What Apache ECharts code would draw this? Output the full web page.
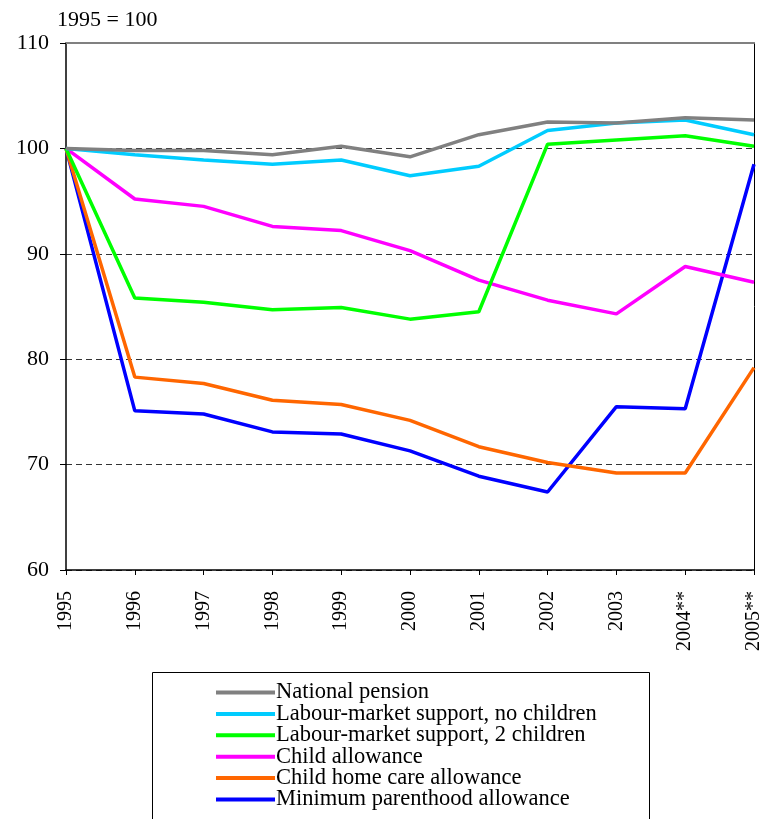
<!DOCTYPE html>
<html>
<head>
<meta charset="utf-8">
<script src="https://cdn.jsdelivr.net/npm/echarts@6/dist/echarts.min.js"></script>
<style>
  html, body { margin: 0; padding: 0; background: #fff; }
  #main { width: 759px; height: 819px; }
</style>
</head>
<body>
<div id="main"></div>
<script>
var years = ['1995', '1996', '1997', '1998', '1999', '2000', '2001', '2002', '2003', '2004**', '2005**'];

var nationalPension = [100, 99.8, 99.8, 99.4, 100.2, 99.2, 101.3, 102.5, 102.4, 102.9, 102.7];
var labourNoChildren = [100, 99.4, 98.9, 98.5, 98.9, 97.4, 98.3, 101.7, 102.4, 102.7, 101.3];
var labourTwoChildren = [100, 85.8, 85.4, 84.7, 84.9, 83.8, 84.5, 100.4, 100.8, 101.2, 100.2];
var childAllowance = [100, 95.2, 94.5, 92.6, 92.2, 90.3, 87.5, 85.6, 84.3, 88.8, 87.3];
var homeCare = [100, 78.3, 77.7, 76.1, 75.7, 74.2, 71.7, 70.2, 69.2, 69.2, 79.2];
var parenthood = [100, 75.1, 74.8, 73.1, 72.9, 71.3, 68.9, 67.4, 75.5, 75.3, 98.5];

var seriesNames = [
  'National pension',
  'Labour-market support, no children',
  'Labour-market support, 2 children',
  'Child allowance',
  'Child home care allowance',
  'Minimum parenthood allowance'
];
var seriesData = [nationalPension, labourNoChildren, labourTwoChildren, childAllowance, homeCare, parenthood];
var seriesColors = ['#808080', '#00ccff', '#00ff00', '#ff00ff', '#ff6600', '#0000ff'];

var font = 'Liberation Serif, Times New Roman, serif';

var chart = echarts.init(document.getElementById('main'));

var series = seriesNames.map(function (name, i) {
  return {
    name: name,
    type: 'line',
    data: seriesData[i],
    showSymbol: false,
    symbol: 'none',
    animation: false,
    lineStyle: { color: seriesColors[i], width: 3.5 },
    itemStyle: { color: seriesColors[i] },
    z: 10 - i
  };
});

var option = {
  backgroundColor: '#fff',
  textStyle: { fontFamily: font },
  grid: { left: 66, right: 5, top: 43, bottom: 249, outerBoundsMode: 'none' },
  legend: {
    data: seriesNames,
    orient: 'vertical',
    left: 211,
    top: 676,
    height: 200,
    itemWidth: 59,
    itemHeight: 4,
    itemGap: -1.6,
    icon: 'rect',
    textStyle: { fontFamily: font, fontSize: 22.5, color: '#000', padding: [0, 0, 0, -4] }
  },
  graphic: [
    {
      type: 'rect',
      shape: { x: 152.5, y: 672.5, width: 497, height: 160 },
      style: { fill: 'none', stroke: '#000', lineWidth: 1 },
      silent: true
    },
    {
      type: 'text',
      left: 57,
      top: 9,
      style: { text: '1995 = 100', font: '22px ' + font, fill: '#000' }
    }
  ],
  xAxis: [
    {
      type: 'category',
      data: years,
      boundaryGap: false,
      axisLine: { lineStyle: { color: '#000', width: 1.5 } },
      axisTick: { show: true, length: 5, lineStyle: { color: '#000' } },
      axisLabel: {
        rotate: 90,
        interval: 0,
        margin: 21,
        fontFamily: font,
        fontSize: 20,
        color: '#000'
      },
      splitLine: { show: false }
    },
    {
      type: 'category',
      data: years,
      position: 'top',
      boundaryGap: false,
      axisLine: { lineStyle: { color: '#808080', width: 2 } },
      axisTick: { show: false },
      axisLabel: { show: false }
    }
  ],
  yAxis: [
    {
      type: 'value',
      min: 60,
      max: 110,
      interval: 10,
      axisLine: { show: true, lineStyle: { color: '#000', width: 1.5 } },
      axisTick: { show: true, length: 6, lineStyle: { color: '#000' } },
      axisLabel: { fontFamily: font, fontSize: 22, color: '#000', margin: 17 },
      splitLine: { show: true, lineStyle: { color: '#333', type: [6, 4], width: 1 } }
    },
    {
      type: 'value',
      min: 60,
      max: 110,
      interval: 10,
      position: 'right',
      axisLine: { show: true, lineStyle: { color: '#000', width: 1 } },
      axisTick: { show: false },
      axisLabel: { show: false },
      splitLine: { show: false }
    }
  ],
  series: series
};

chart.setOption(option);
window.addEventListener('resize', function () { chart.resize(); });
</script>
</body>
</html>
